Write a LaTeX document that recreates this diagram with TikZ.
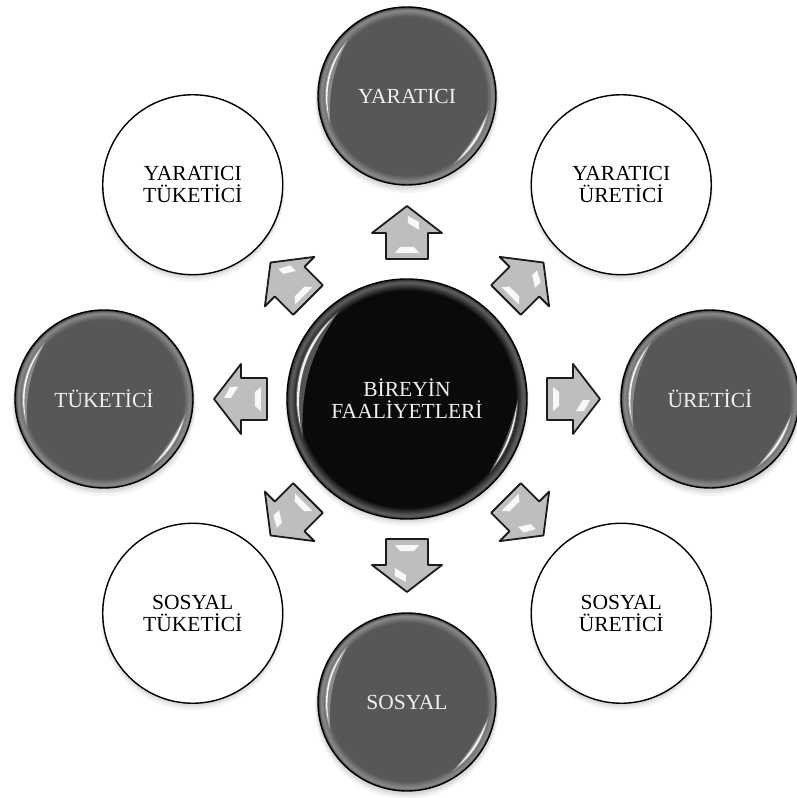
\documentclass[tikz,border=0pt]{standalone}
\usepackage{fontspec}
\setmainfont{Liberation Serif}
\usetikzlibrary{calc}
\definecolor{dk}{HTML}{575757}
\definecolor{dkrim}{HTML}{8C8C8C}
\definecolor{dkedge}{HTML}{3A3A3A}
\definecolor{ctr}{HTML}{0A0A0A}
\definecolor{ctrrim}{HTML}{606060}
\definecolor{ctredge}{HTML}{2A2A2A}
\definecolor{arrfill}{HTML}{BEBEBE}
\definecolor{arrline}{HTML}{1C1C1C}
\definecolor{lighttxt}{HTML}{F0F0F0}
\pgfdeclareradialshading{dkshade}{\pgfpointorigin}{color(0bp)=(dk); color(22.3bp)=(dk); color(24.2bp)=(dkrim); color(25bp)=(dkedge); color(50bp)=(dkedge)}
\pgfdeclareradialshading{ctrshade}{\pgfpointorigin}{color(0bp)=(ctr); color(22.6bp)=(ctr); color(24.3bp)=(ctrrim); color(25bp)=(ctredge); color(50bp)=(ctredge)}
\newcommand\btnglint[6]{% node, radius, start, end, bend, opacity
  \fill[white,opacity=#6,shift={(#1.center)}] (#3:#2) arc[start angle=#3,end angle=#4,radius=#2] to[bend left=#5] (#3:#2);}
\tikzset{
  lbl/.style={font=\fontsize{21.5}{22}\selectfont, align=center, inner sep=0pt},
  darkbtn/.style={circle, minimum size=178pt, draw=black, line width=1.4pt, shade, shading=dkshade, text=lighttxt, lbl},
  whitebtn/.style={circle, minimum size=180pt, draw=black, line width=1.4pt, fill=white, text=black, lbl},
  ctrbtn/.style={circle, minimum size=240pt, draw=black, line width=1.4pt, shade, shading=ctrshade, text=lighttxt, lbl},
  blockarrow/.pic={
    \filldraw[fill=arrfill, draw=arrline, line width=1.8pt, line join=round]
      (0,21) -- (26,21) -- (26,35) -- (53,0) -- (26,-35) -- (26,-21) -- (0,-21) -- cycle;
    \fill[white,opacity=.9] (6,12) -- (12,7) -- (12,-7) -- (6,-12) -- cycle;
    \fill[white,opacity=.9] (29,-12) -- (36,-1) -- (43,-1) -- (37,-12) -- cycle;
  }
}
\begin{document}
\begin{tikzpicture}[x=1pt,y=1pt]
\fill[white] (-407,-399) rectangle (390,399);
\useasboundingbox (-407,-399) rectangle (390,399);
% soft shadows
\foreach \a in {0,45,...,315}{
  \fill[black,opacity=.04] (\a:303) ++(0,-5) circle (92);
  \fill[black,opacity=.05] (\a:303) ++(0,-3.5) circle (91);
  \fill[black,opacity=.06] (\a:303) ++(0,-2) circle (90.5);
}
\fill[black,opacity=.04] (0,-5) circle (122);
\fill[black,opacity=.05] (0,-3.5) circle (121);
\fill[black,opacity=.06] (0,-2) circle (120.5);
% nodes
\node[ctrbtn] (c) at (0,0) {BİREYİN\\FAALİYETLERİ};
\node[darkbtn] (n1) at (90:303) {YARATICI};
\node[whitebtn] (n2) at (45:303) {YARATICI\\ÜRETİCİ};
\node[darkbtn] (n3) at (0:303) {ÜRETİCİ};
\node[whitebtn] (n4) at (-45:303) {SOSYAL\\ÜRETİCİ};
\node[darkbtn] (n5) at (-90:303) {SOSYAL};
\node[whitebtn] (n6) at (-135:303) {SOSYAL\\TÜKETİCİ};
\node[darkbtn] (n7) at (180:303) {TÜKETİCİ};
\node[whitebtn] (n8) at (135:303) {YARATICI\\TÜKETİCİ};
% glossy glints on the dark buttons
\foreach \n in {n1,n3,n5,n7}{
  \btnglint{\n}{82}{136}{200}{14}{.3}
  \btnglint{\n}{81}{140}{195}{20}{.9}
  \btnglint{\n}{83}{-56}{-10}{6}{.3}
  \btnglint{\n}{82}{-52}{-14}{9}{.9}
}
\btnglint{c}{111}{128}{200}{18}{.3}
\btnglint{c}{110}{132}{195}{24}{.9}
\btnglint{c}{111}{-42}{0}{7}{.3}
\btnglint{c}{110}{-38}{-3}{10}{.9}
% block arrows
\foreach \a/\n in {90/n1,45/n2,0/n3,-45/n4,-90/n5,-135/n6,180/n7,135/n8}
  \pic[rotate=\a] at ($(c.center)!140pt!(\n.center)$) {blockarrow};
\end{tikzpicture}
\end{document}
